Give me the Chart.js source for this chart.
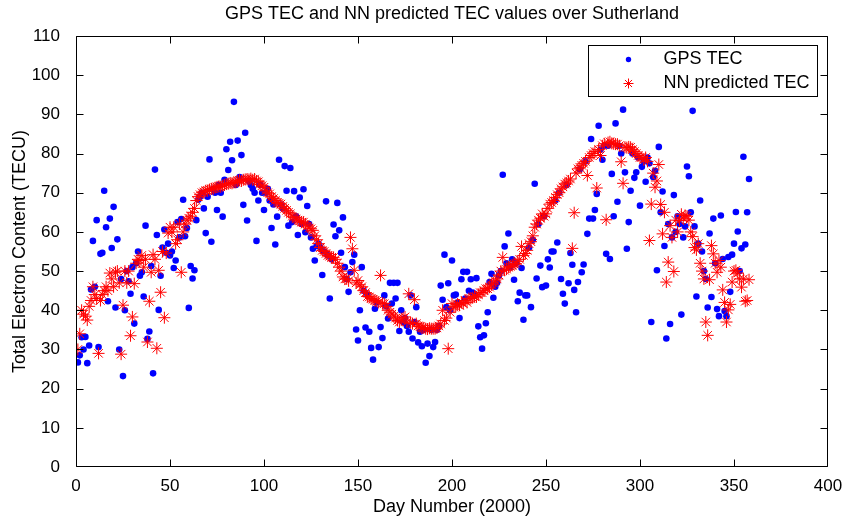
<!DOCTYPE html>
<html>
<head>
<meta charset="utf-8">
<script src="https://cdn.jsdelivr.net/npm/chart.js@4.4.0/dist/chart.umd.min.js"></script>
<style>
html,body{margin:0;padding:0;background:#fff;}
#wrap{width:849px;height:523px;}
</style>
</head>
<body>
<div id="wrap"><canvas id="c" width="849" height="523"></canvas></div>
<script>
// ---- data ----
const firstDay = 1;
const gpsTEC = [
 26.7, 28.5, 33.1, 30, 33.2, 26.5, 31, 45.3, 57.7, 46,
 63, 30.6, 54.4, 54.7, 70.5, 61.2, 42.3, 63.4, 55.9, 66.4,
 40.7, 58.1, 30, 48, 23.2, 40, 50, 47.4, 44.2, 51,
 36.6, 52, 55, 48.8, 49.7, 43.5, 61.6, 32.7, 34.6, 51.3,
 23.9, 75.9, 59.2, 40.1, 48.8, 56, 60.6, 54.7, 57, 54,
 55, 50.8, 52.7, 62.5, 58.6, 63.3, 68.2, 58.9, 61, 40.6,
 51.3, 48.1, 50.2, 63, 68.2, 69, 70, 66, 59.7, 69,
 78.5, 57.5, 71, 70, 65.6, 72, 70, 63.9, 73.3, 81.1,
 75.8, 83, 78.3, 93.2, 72, 83.3, 74, 79.6, 66.9, 85.3,
 62.9, 73, 72, 71, 70, 57.7, 68, 72, 70, 65.6,
 70, 71, 68, 61, 67, 56.8, 63.9, 78.4, 67, 66,
 76.8, 70.5, 61.6, 76.3, 62.5, 70.4, 64, 59.2, 68.8, 62,
 70.9, 59.9, 66.6, 62, 58.6, 55.7, 52.7, 56.4, 57, 56,
 49, 55, 67.8, 54, 43, 53, 61.9, 58.9, 67.4, 60.4,
 54.7, 63.7, 51, 48, 44.7, 49.7, 52.3, 54.2, 35.1, 32.3,
 40, 51, 45, 35.6, 44, 34.5, 30.4, 27.4, 40.4, 42,
 30.6, 35.7, 32.9, 43.8, 41, 37.9, 47, 41.7, 47, 43,
 47, 34.7, 40, 37, 38, 36, 34.5, 43.8, 32.8, 37,
 40.8, 31.8, 34.5, 30.8, 35, 26.6, 31.5, 28.3, 35, 30.6,
 31.9, 35, 36, 46.3, 42.7, 54.2, 40.8, 46.9, 40, 52.7,
 43.8, 44, 42, 38, 47.9, 49.8, 43, 49.8, 45, 47.9,
 44.5, 44.2, 48.2, 35.9, 33.1, 30.2, 33.6, 36.7, 39.5, 47.2,
 49.3, 43.2, 46, 47, 48.9, 50, 74.6, 56.3, 52, 59.6,
 51, 53, 47.8, 52, 42.3, 44.5, 50.8, 37.6, 43.8, 43.8,
 56, 40.8, 58, 72.3, 48.1, 62, 51.4, 45.9, 64, 46.3,
 53, 50.9, 55, 55, 68, 57.3, 70, 48, 44.2, 41.7,
 72, 46.9, 54.6, 51.6, 45.2, 39.5, 47.2, 76, 49.7, 51.7,
 78, 59.5, 63.4, 83.7, 63.4, 65.6, 69.7, 87.1, 81, 78.4,
 82, 54.4, 82, 53.1, 74.8, 64, 87.7, 67.7, 82, 80,
 91.2, 75.2, 55.7, 62.5, 70.5, 80, 73.8, 75.2, 79, 66.7,
 76.6, 78, 72.8, 79, 77.5, 37, 74, 75.6, 50.2, 81.7,
 65, 70.3, 56.4, 32.8, 62, 36.5, 58.6, 69.4, 60, 64,
 62, 38.9, 58.6, 61.4, 76.7, 74.2, 65, 90.9, 61.4, 43.5,
 57, 68, 55, 50, 48, 40.7, 59.6, 43.4, 63.4, 52,
 40.3, 38.5, 64.2, 53.1, 39.8, 38.5, 53.6, 44.7, 54.2, 57,
 65.1, 60.1, 50, 55.8, 79.2, 56.8, 65, 73.5
];
const nnTEC = [
 30, 34, 40, 39, 38.5, 37.5, 41, 42.5, 46, 44,
 43, 29, 42.5, 44, 45, 46, 45, 49.5, 48, 46,
 49.7, 50, 47, 28.8, 41.3, 50, 47, 50, 33.5, 38.3,
 46.8, 52, 53, 52.7, 54, 51, 53, 31.9, 42.3, 49.7,
 54.2, 53, 30.3, 50.2, 44.6, 55, 38.1, 54.6, 59.7, 61.2,
 60, 61.2, 57, 58, 62, 49.7, 60, 62, 63, 63.5,
 64, 65, 66, 68, 69, 69.5, 70, 70.2, 70.5, 70.5,
 70.8, 71, 71, 71.3, 71.5, 71.6, 71.5, 71.8, 72, 72.2,
 72.3, 72.5, 72.4, 72.6, 72.7, 73, 73.2, 73, 73.3, 73.4,
 73.5, 73.4, 73.6, 73.3, 73.5, 73, 72.8, 72.2, 71.8, 71.4,
 70.5, 70, 69.7, 69, 68.5, 68, 67.5, 67.3, 67.1, 66.5,
 66, 65.5, 65, 64.6, 64, 63.7, 63.3, 63, 62.8, 62.5,
 62.5, 62, 61.5, 61, 60.8, 60.4, 59, 58, 57, 56,
 55.3, 55, 54.5, 54, 53.8, 53.5, 53.5, 53, 52, 51,
 50, 48.5, 48, 48, 47.5, 58.6, 55.7, 50.2, 47, 47.6,
 46.5, 46, 45, 44.5, 43.5, 43.4, 43, 42.8, 42.5, 42.3,
 42, 48.9, 41.8, 41.7, 41, 40, 39.5, 39, 38.5, 38,
 37.4, 37, 37.5, 38, 38.3, 37, 44.2, 36.8, 36.6, 42.7,
 36.6, 36, 35.8, 35.5, 35.5, 35.3, 35.2, 35.4, 35.3, 35.3,
 35.3, 35.5, 36, 36.5, 40, 37.4, 38, 30.2, 39.5, 41.7,
 40.8, 41, 41.5, 41.3, 42, 41.7, 42.5, 42, 43, 43,
 43.2, 43.5, 43.4, 44, 44.5, 44.5, 45, 45.5, 45.5, 45.9,
 46.5, 47, 47.5, 48, 49, 50, 53.5, 50.2, 50.5, 51,
 51.2, 51.5, 51.8, 51.9, 52.5, 53, 56.3, 54, 54.5, 55.3,
 57, 57.5, 59, 61.2, 62, 63, 63.5, 64.6, 64, 64.6,
 66, 67.1, 67.5, 68, 68.8, 69.5, 70, 71, 71.5, 72.2,
 72.5, 73, 73.5, 55.8, 64.9, 75, 76.1, 76.5, 77, 77.5,
 78, 74.4, 79, 79.5, 80, 80.5, 71.2, 81, 79.5, 82,
 82.5, 63.1, 82.8, 83, 82.6, 82.5, 82.4, 82.4, 82, 77.9,
 72.4, 81.6, 81.5, 81.7, 81.6, 81, 80.5, 80, 79.5, 79,
 79, 78.5, 79, 78, 57.8, 67.1, 75, 71.4, 73, 77.2,
 67, 59.5, 65, 47.2, 52.3, 61.6, 58.6, 49.9, 63, 60,
 62.9, 64.5, 63.5, 64.2, 64, 63, 60, 58.8, 56, 55.4,
 57, 52, 50, 48, 37, 33.6, 47.8, 56.5, 54.4, 52,
 49.7, 52.7, 51, 45.2, 42, 37, 40.1, 41.5, 47.2, 50,
 50.2, 49.5, 48, 45.9, 48, 42.3, 42.5, 47.8
];
const xTicks = [0, 50, 100, 150, 200, 250, 300, 350, 400];
const yTicks = [0, 10, 20, 30, 40, 50, 60, 70, 80, 90, 100, 110];
const seriesNames = ['GPS TEC', 'NN predicted TEC'];
const titleText = 'GPS TEC and NN predicted TEC values over Sutherland';
const xTitle = 'Day Number (2000)';
const yTitle = 'Total Electron Content (TECU)';

// ---- build points ----
const gpsPts = gpsTEC.map((v, i) => ({x: firstDay + i, y: v}));
const nnPts = nnTEC.map((v, i) => ({x: firstDay + i, y: v}));

const FONT = "'Liberation Sans', Arial, Helvetica, sans-serif";
const BLUE = '#0000ff';
const RED = '#ff0000';

// MATLAB-like box with inward ticks, legend and title centred over the axes
const matlabAxes = {
  id: 'matlabAxes',
  afterDraw(chart) {
    const {ctx, chartArea: a, scales: {x, y}} = chart;
    const L = Math.round(a.left) + 0.5, R = Math.round(a.right) - 0.5;
    const T = Math.round(a.top) + 0.5, B = Math.round(a.bottom) - 0.5;
    const tl = 7;
    const clampX = p => Math.min(Math.max(p, L), R);
    const clampY = p => Math.min(Math.max(p, T), B);
    ctx.save();
    ctx.strokeStyle = '#000';
    ctx.lineWidth = 1;
    ctx.beginPath();
    ctx.rect(L, T, R - L, B - T);
    xTicks.forEach(v => {
      const p = clampX(Math.round(x.getPixelForValue(v)) + 0.5);
      ctx.moveTo(p, B); ctx.lineTo(p, B - tl);
      ctx.moveTo(p, T); ctx.lineTo(p, T + tl);
    });
    yTicks.forEach(v => {
      const p = clampY(Math.round(y.getPixelForValue(v)) + 0.5);
      ctx.moveTo(L, p); ctx.lineTo(L + tl, p);
      ctx.moveTo(R, p); ctx.lineTo(R - tl, p);
    });
    ctx.stroke();

    // title
    ctx.fillStyle = '#000';
    ctx.font = '18px ' + FONT;
    ctx.textAlign = 'center';
    ctx.textBaseline = 'middle';
    ctx.fillText(titleText, (a.left + a.right) / 2, 14.5);

    // legend box
    const w = 229, h = 51;
    const lx = Math.round(a.right - 11 - w) + 0.5, ly = Math.round(a.top + 9) + 0.5;
    ctx.fillStyle = '#fff';
    ctx.fillRect(lx, ly, w, h);
    ctx.strokeRect(lx, ly, w, h);
    const mx = lx + 40, r1 = ly + 14, r2 = ly + 38;
    ctx.fillStyle = BLUE;
    ctx.beginPath(); ctx.arc(mx, r1, 2.7, 0, Math.PI * 2); ctx.fill();
    ctx.strokeStyle = RED;
    Chart.helpers.drawPoint(ctx, {pointStyle: 'star', radius: 5, rotation: 0, borderWidth: 1}, mx, r2);
    ctx.fillStyle = '#000';
    ctx.textAlign = 'left';
    ctx.fillText(seriesNames[0], lx + 75, r1);
    ctx.fillText(seriesNames[1], lx + 75, r2);
    ctx.restore();
  }
};

new Chart(document.getElementById('c'), {
  type: 'scatter',
  data: {
    datasets: [
      {
        label: seriesNames[0],
        data: gpsPts,
        pointStyle: 'circle',
        pointRadius: 3.3,
        pointHoverRadius: 3.3,
        backgroundColor: BLUE,
        borderColor: BLUE,
        borderWidth: 0,
        order: 2
      },
      {
        label: seriesNames[1],
        data: nnPts,
        pointStyle: 'star',
        pointRadius: 6,
        pointHoverRadius: 6,
        backgroundColor: 'rgba(0,0,0,0)',
        borderColor: RED,
        borderWidth: 1,
        order: 1
      }
    ]
  },
  options: {
    responsive: false,
    animation: false,
    devicePixelRatio: 1,
    layout: {padding: {left: 0, right: 21, top: 36, bottom: 0}},
    plugins: {
      legend: {display: false},
      tooltip: {enabled: false},
      title: {display: false}
    },
    scales: {
      x: {
        type: 'linear',
        min: 0, max: 400,
        afterBuildTicks: s => { s.ticks = xTicks.map(v => ({value: v})); },
        afterFit: s => { s.height = 56; },
        grid: {display: false},
        border: {display: false},
        ticks: {color: '#000', font: {family: FONT, size: 17}, padding: 1, maxRotation: 0, autoSkip: false},
        title: {display: true, text: xTitle, color: '#000', font: {family: FONT, size: 18}, padding: {top: 0, bottom: 5}}
      },
      y: {
        type: 'linear',
        min: 0, max: 110,
        afterBuildTicks: s => { s.ticks = yTicks.map(v => ({value: v})); },
        afterFit: s => { s.width = 76; },
        grid: {display: false},
        border: {display: false},
        ticks: {color: '#000', font: {family: FONT, size: 17}, padding: 8, autoSkip: false},
        title: {display: true, text: yTitle, color: '#000', font: {family: FONT, size: 18}, padding: {top: 9, bottom: 0}}
      }
    }
  },
  plugins: [matlabAxes]
});
</script>
</body>
</html>
